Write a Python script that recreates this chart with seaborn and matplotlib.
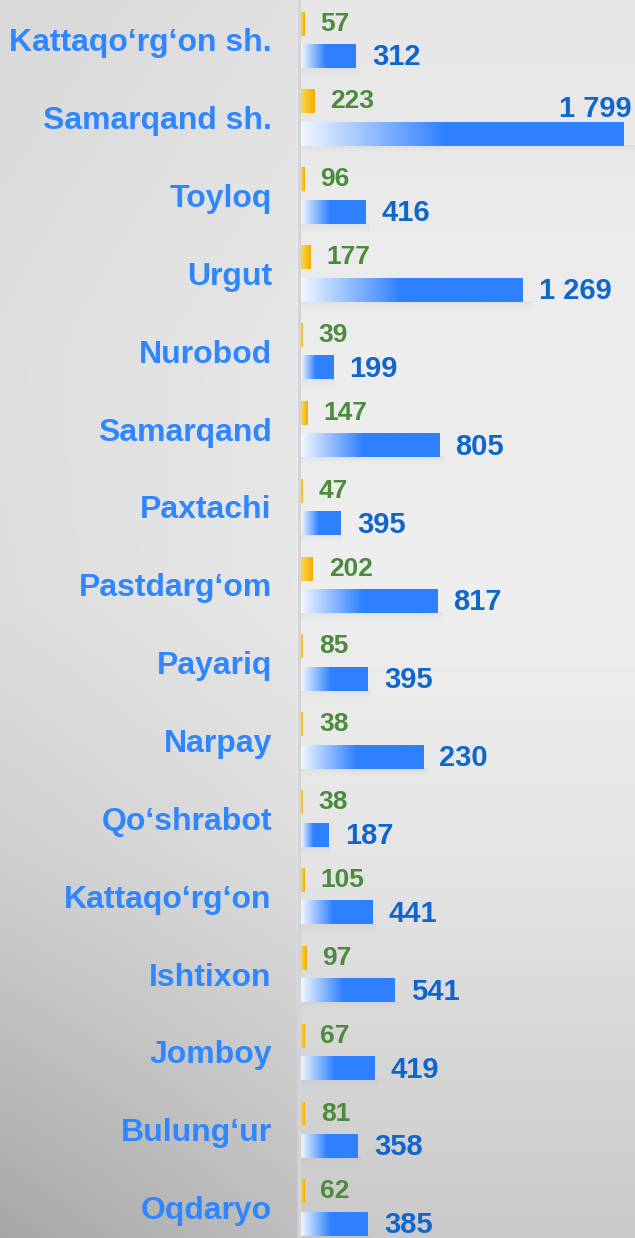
import numpy as np
import pandas as pd
import matplotlib
matplotlib.use("Agg")
import matplotlib.pyplot as plt
import seaborn as sns
from matplotlib.colors import LinearSegmentedColormap
from matplotlib.lines import Line2D

# Data (bar lengths, labels as printed)
regions = ["Kattaqo‘rg‘on sh.", "Samarqand sh.", "Toyloq", "Urgut", "Nurobod",
           "Samarqand", "Paxtachi", "Pastdarg‘om", "Payariq", "Narpay",
           "Qo‘shrabot", "Kattaqo‘rg‘on", "Ishtixon", "Jomboy", "Bulung‘ur", "Oqdaryo"]
yellow_labels = [57, 223, 96, 177, 39, 147, 47, 202, 85, 38, 38, 105, 97, 67, 81, 62]
blue_labels = [312, 1799, 416, 1269, 199, 805, 395, 817, 395, 230, 187, 441, 541, 419, 358, 385]
yellow_bars = [17, 73, 20, 52, 6, 34, 11, 67, 11, 11, 6, 17, 28, 17, 22, 17]
blue_bars = [307, 1799, 363, 1240, 179, 771, 223, 760, 374, 682, 156, 402, 525, 413, 318, 374]

df = pd.DataFrame({
    "region": regions * 2,
    "series": ["yellow"] * len(regions) + ["blue"] * len(regions),
    "value": yellow_bars + blue_bars,
})

sns.set_style("white")
plt.rcParams["font.family"] = ["Liberation Sans", "DejaVu Sans"]

W, H = 635, 1238
fig = plt.figure(figsize=(W / 100, H / 100), dpi=100)

# background gradient
bg = fig.add_axes([0, 0, 1, 1], zorder=-5)
yy = np.arange(H)[:, None].astype(float)
xx = np.arange(W)[None, :].astype(float)
right_v = np.interp(yy, [0, 350, 600, 850, H], [0.905, 0.93, 0.935, 0.90, 0.79])
t = np.clip(1 - xx / 297, 0, 1)
dark = 0.025 + 0.03 * t + (yy / H) ** 2.5 * (0.02 + 0.06 * t)
img = np.where(xx < 297, right_v - dark, right_v + 0 * xx)
bg.imshow(np.dstack([img] * 3), aspect="auto", interpolation="bilinear")
bg.axis("off")
fig.add_artist(Line2D([298.5 / W, 298.5 / W], [0, 1], color="#d4d4d4", lw=2.2, zorder=-4))

ax = fig.add_axes([301 / W, 0, 334 / W, 1])
ax.patch.set_alpha(0)

sns.barplot(data=df, y="region", x="value", hue="series", order=regions,
            hue_order=["yellow", "blue"], palette={"yellow": "#f5bb0f", "blue": "#2e80ff"},
            dodge=True, width=0.836, gap=0.263, legend=False, ax=ax, orient="h")

blue_grad = LinearSegmentedColormap.from_list("bg", [(0, "#f2f7ff"), (0.45, "#2e80ff"), (1, "#2e80ff")])
yel_grad = LinearSegmentedColormap.from_list("yg", [(0, "#ffd84a"), (1, "#f0ae00")])
grad = np.linspace(0, 1, 256)[None, :]

# shadow: grey fading downwards
shade = np.zeros((32, 1, 4))
shade[..., :3] = [0.55, 0.59, 0.64]
shade[:, 0, 3] = 0.13 * np.linspace(1, 0, 32) ** 1.5


def fill_gradient(patch, cmap):
    x0, y0 = patch.get_x(), patch.get_y()
    w, h = patch.get_width(), patch.get_height()
    im = ax.imshow(grad, cmap=cmap, extent=(x0, x0 + w, y0 + h, y0),
                   aspect="auto", interpolation="bilinear", zorder=3)
    im.set_clip_path(patch)
    patch.set_facecolor("none")
    patch.set_edgecolor("none")
    patch.set_linewidth(0)


yel_cont, blue_cont = ax.containers[0], ax.containers[1]
for p in yel_cont.patches:
    fill_gradient(p, yel_grad)
for p in blue_cont.patches:
    yb = p.get_y() + p.get_height()
    ax.imshow(shade, extent=(p.get_x(), p.get_x() + p.get_width() * 1.04, yb + 0.13, yb),
              aspect="auto", interpolation="bilinear", zorder=2)
    fill_gradient(p, blue_grad)


def fmt(v):
    return f"{v:,}".replace(",", " ")


ax.bar_label(yel_cont, labels=[fmt(v) for v in yellow_labels], padding=11.5,
             fontsize=19, fontweight="bold", color="#4c8a3e")
blue_txt = ax.bar_label(blue_cont, labels=[fmt(v) for v in blue_labels], padding=11.5,
                        fontsize=21, fontweight="bold", color="#0f66cc")
# the longest bar's label does not fit, so it sits above the bar end
big = int(np.argmax(blue_bars))
blue_txt[big].set_ha("right")
blue_txt[big].xyann = (6.5, 18)
for txt in blue_txt:
    if txt is not blue_txt[big]:
        txt.xyann = (11.5, -1)

ax.set_xlim(0, 1866)
ax.set_ylim(15.39, -0.511)
ax.set_xlabel("")
ax.set_ylabel("")
ax.set_xticks([])
for s in ax.spines.values():
    s.set_visible(False)
ax.tick_params(axis="y", length=0, pad=21, labelsize=23, labelcolor="#2f86ff")
for lbl in ax.get_yticklabels():
    lbl.set_fontweight("bold")

fig.savefig("out.png", dpi=100)
